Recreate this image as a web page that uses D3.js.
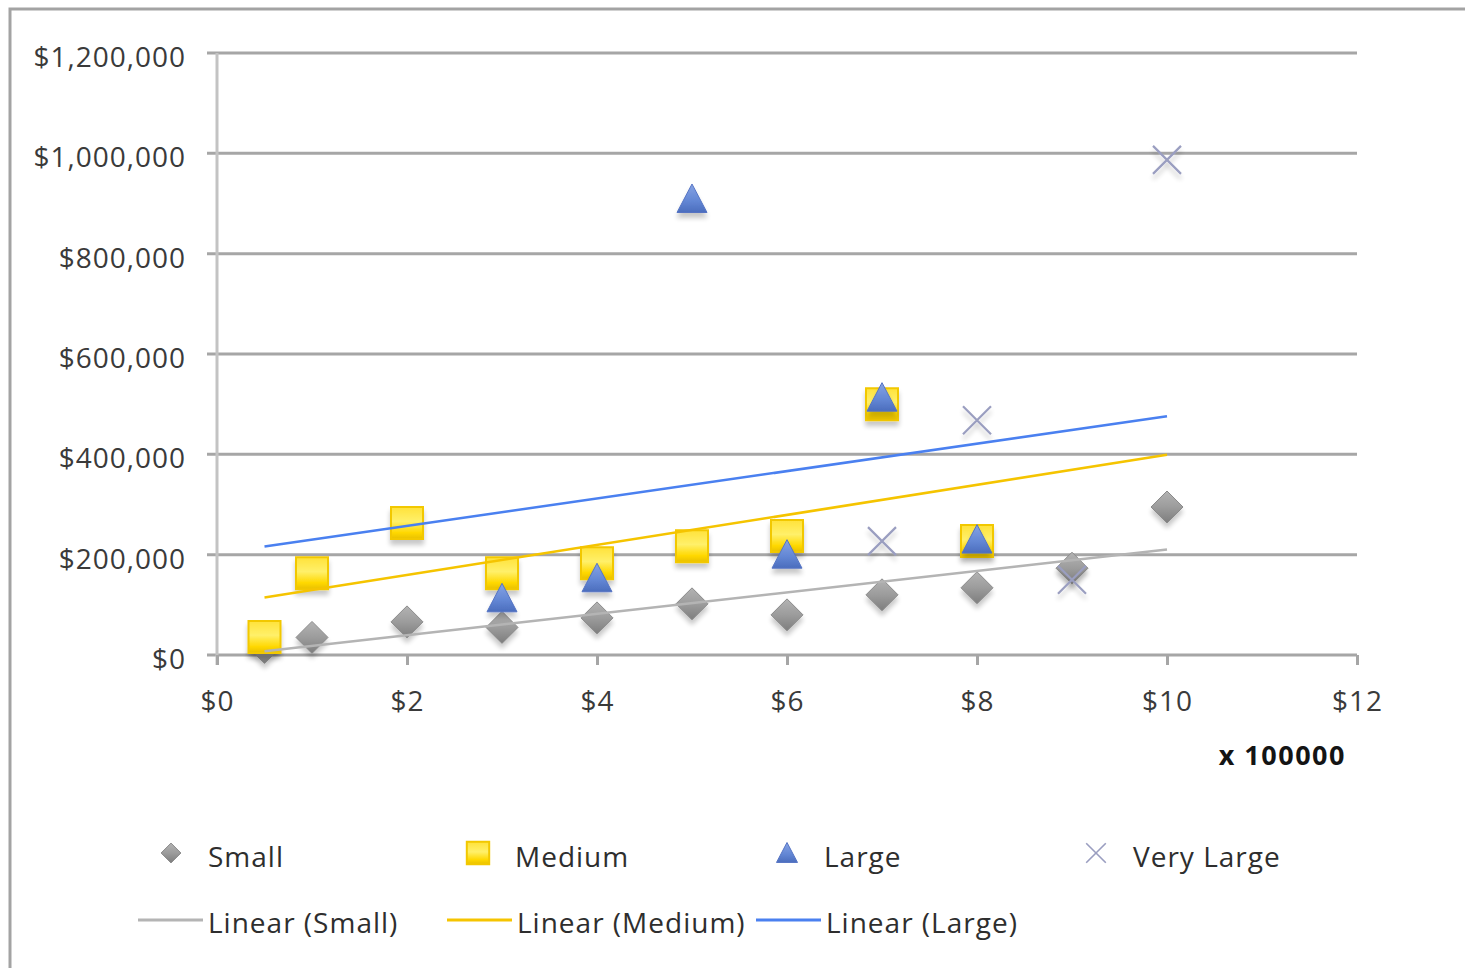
<!DOCTYPE html>
<html>
<head>
<meta charset="utf-8">
<script src="https://cdn.jsdelivr.net/npm/d3@7/dist/d3.min.js"></script>
<style>
  html, body { margin: 0; padding: 0; background: #fff; }
  svg { display: block; }
  text { font-family: "Open Sans", "DejaVu Sans", sans-serif; }
</style>
</head>
<body>
<svg id="chart" width="1465" height="968"></svg>
<script>
// Shared x column (in units of $100,000) and one value column per company size
const xValues = [0.5, 1, 2, 3, 4, 5, 6, 7, 8, 9, 10];
const small = [15000, 35000, 66000, 55000, 74000, 102000, 80000, 120000, 134000, 173000, 295000];
const medium = [36000, 163000, 263000, 163000, 183000, 217000, 237000, 500000, 227000, null, null];
const large = [null, null, null, 113000, 153000, 909000, 200000, 513000, 230000, null, null];
const veryLarge = [null, null, null, null, null, null, null, 227000, 468000, 150000, 987000];

const seriesNames = ["Small", "Medium", "Large", "Very Large"];
const trendNames = ["Linear (Small)", "Linear (Medium)", "Linear (Large)"];
const yTicks = [0, 200000, 400000, 600000, 800000, 1000000, 1200000];
const xTicks = [0, 2, 4, 6, 8, 10, 12];
const xUnitLabel = "x 100000";

const svg = d3.select("#chart");
const defs = svg.append("defs");

// marker drop shadow
const sh = defs.append("filter").attr("id", "shadow")
  .attr("x", "-50%").attr("y", "-50%").attr("width", "200%").attr("height", "220%");
sh.append("feGaussianBlur").attr("in", "SourceAlpha").attr("stdDeviation", 2.4).attr("result", "b");
sh.append("feOffset").attr("in", "b").attr("dy", 5).attr("result", "o");
sh.append("feComponentTransfer").attr("in", "o").attr("result", "s")
  .append("feFuncA").attr("type", "linear").attr("slope", 0.22);
const mg = sh.append("feMerge");
mg.append("feMergeNode").attr("in", "s");
mg.append("feMergeNode").attr("in", "SourceGraphic");

function vGrad(id, stops) {
  const g = defs.append("linearGradient").attr("id", id)
    .attr("x1", 0).attr("y1", 0).attr("x2", 0).attr("y2", 1);
  stops.forEach(([o, c]) => g.append("stop").attr("offset", o).attr("stop-color", c));
}
vGrad("gSmall", [[0, "#b3b3b3"], [0.5, "#9c9c9c"], [1, "#7d7d7d"]]);
vGrad("gMedium", [[0, "#ffe23a"], [0.45, "#fff06a"], [0.8, "#ffd800"], [1, "#e8c000"]]);
vGrad("gLarge", [[0, "#86a3e4"], [0.6, "#6286d4"], [1, "#4b6dbd"]]);

// scales
const x = d3.scaleLinear().domain([0, 12]).range([217, 1357]);
const y = d3.scaleLinear().domain([0, 1200000]).range([655, 53]);

// outer chart frame
svg.append("rect").attr("x", 10).attr("y", 9).attr("width", 1470).attr("height", 980)
  .attr("fill", "none").attr("stroke", "#a3a3a3").attr("stroke-width", 3);

// horizontal gridlines (also the x baseline)
svg.append("g").selectAll("line").data(yTicks).join("line")
  .attr("x1", 207).attr("x2", x(12))
  .attr("y1", d => y(d)).attr("y2", d => y(d))
  .attr("stroke", "#a6a6a6").attr("stroke-width", 3);

// vertical value axis line
svg.append("line").attr("x1", x(0)).attr("x2", x(0)).attr("y1", y(1200000)).attr("y2", y(0) + 10)
  .attr("stroke", "#c3c3c3").attr("stroke-width", 3);

// y tick labels
const fmt = d3.format("$,.0f");
svg.append("g").selectAll("text").data(yTicks).join("text")
  .attr("x", 186).attr("y", d => y(d) + 4).attr("dy", "0.36em")
  .attr("text-anchor", "end").attr("font-size", 28).attr("letter-spacing", 1)
  .attr("fill", "#3a3a3a")
  .text(d => fmt(d));

// x axis ticks and labels
const xAxis = d3.axisBottom(x).tickValues(xTicks).tickSize(10).tickPadding(26)
  .tickFormat(d => "$" + d);
const gx = svg.append("g").attr("transform", `translate(0,${y(0)})`).call(xAxis);
gx.select(".domain").remove();
gx.selectAll(".tick line").attr("stroke", "#a6a6a6").attr("stroke-width", 3);
gx.selectAll(".tick text").attr("font-size", 28).attr("letter-spacing", 1).attr("fill", "#3a3a3a")
  .attr("font-family", "'Open Sans', sans-serif");

svg.append("text").attr("x", 1346).attr("y", 755).attr("dy", "0.36em")
  .attr("text-anchor", "end").attr("font-size", 27).attr("font-weight", "bold")
  .attr("letter-spacing", 1.5).attr("fill", "#141414").text(xUnitLabel);

// marker shapes
const sym = {
  diamond: s => `M0,${-s}L${s},0L0,${s}L${-s},0Z`,
  square: s => `M${-s},${-s}H${s}V${s}H${-s}Z`,
  triangle: s => `M0,${-s}L${s},${s * 0.9}L${-s},${s * 0.9}Z`,
  cross: s => `M${-s},${-s}L${s},${s}M${s},${-s}L${-s},${s}`
};
const styles = [
  { shape: "diamond", size: 16, fill: "url(#gSmall)", stroke: "#8a8a8a", sw: 1 },
  { shape: "square", size: 16, fill: "url(#gMedium)", stroke: "#f2c800", sw: 2 },
  { shape: "triangle", size: 15, fill: "url(#gLarge)", stroke: "#5574c4", sw: 1 },
  { shape: "cross", size: 14, fill: "none", stroke: "#9a9ec0", sw: 2.2 }
];
const trendColors = ["#b4b4b4", "#f5c400", "#4a80f0"];

const allSeries = [small, medium, large, veryLarge];
const points = allSeries.map(vals =>
  xValues.map((xv, i) => ({ x: xv, y: vals[i] })).filter(p => p.y != null));

// scatter markers
points.forEach((pts, k) => {
  const st = styles[k];
  svg.append("g").attr("filter", "url(#shadow)")
    .selectAll("path").data(pts).join("path")
    .attr("transform", d => `translate(${x(d.x)},${y(d.y)})`)
    .attr("d", sym[st.shape](st.size))
    .attr("fill", st.fill).attr("stroke", st.stroke).attr("stroke-width", st.sw);
});

// least-squares trendlines across the shared x range
function fit(pts) {
  const mx = d3.mean(pts, p => p.x), my = d3.mean(pts, p => p.y);
  const b = d3.sum(pts, p => (p.x - mx) * (p.y - my)) / d3.sum(pts, p => (p.x - mx) ** 2);
  return xv => my + b * (xv - mx);
}
const xr = d3.extent(xValues);
const line = d3.line().x(d => x(d[0])).y(d => y(d[1]));
[0, 1, 2].forEach(k => {
  const f = fit(points[k]);
  svg.append("path").datum(xr.map(v => [v, f(v)]))
    .attr("d", line).attr("fill", "none")
    .attr("stroke", trendColors[k]).attr("stroke-width", 2.6);
});

// legend
const legRow1 = [171, 478, 787, 1096];
const legG = svg.append("g");
seriesNames.forEach((name, k) => {
  const st = styles[k];
  const scale = k === 0 ? 0.62 : 0.7;
  legG.append("path")
    .attr("transform", `translate(${legRow1[k]},${853})`)
    .attr("d", sym[st.shape](st.size * scale))
    .attr("fill", st.fill).attr("stroke", st.stroke).attr("stroke-width", k === 3 ? 1.6 : st.sw);
  legG.append("text").attr("x", legRow1[k] + 37).attr("y", 857).attr("dy", "0.36em")
    .attr("font-size", 28).attr("letter-spacing", 1).attr("fill", "#2e2e2e").text(name);
});
const legRow2 = [138, 447, 756];
trendNames.forEach((name, k) => {
  legG.append("line").attr("x1", legRow2[k]).attr("x2", legRow2[k] + 65)
    .attr("y1", 920).attr("y2", 920)
    .attr("stroke", trendColors[k]).attr("stroke-width", 3);
  legG.append("text").attr("x", legRow2[k] + 70).attr("y", 923).attr("dy", "0.36em")
    .attr("font-size", 28).attr("letter-spacing", 1).attr("fill", "#2e2e2e").text(name);
});
</script>
</body>
</html>
